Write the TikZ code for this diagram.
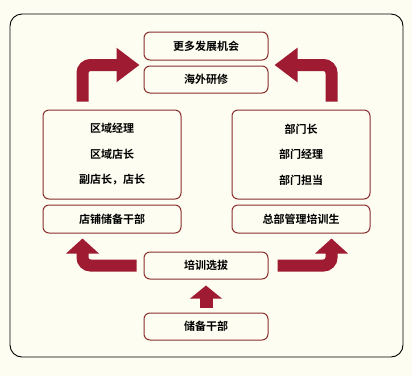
\documentclass[tikz,border=0pt]{standalone}
\usepackage{fontspec}
\setmainfont{Noto Sans CJK SC}[BoldFont={Noto Sans CJK SC Bold}]
\usepackage{tikz}
\usetikzlibrary{arrows.meta,positioning,calc}
\usepackage{xcolor}
\definecolor{cream}{HTML}{FDFDF1}
\definecolor{boxline}{HTML}{8A2E2E}
\definecolor{arrowred}{HTML}{9E1B32}

\begin{document}
\begin{tikzpicture}[x=1pt,y=-1pt,font=\fontsize{11}{13}\selectfont\bfseries,
  box/.style={draw=boxline,line width=1pt,rounded corners=6pt,fill=cream,
    minimum width=124pt,minimum height=27pt,inner sep=0pt},
  widebox/.style={box,minimum width=138pt},
  bigarrow/.style={draw=arrowred,line width=12pt,rounded corners=8pt,
    -{Triangle[width=33pt,length=23pt]}},
  lowarrow/.style={bigarrow,-{Triangle[width=32pt,length=15pt]}}]
  \fill[cream] (0,0) rectangle (412,376);
  \draw[line width=0.9pt,rounded corners=12pt] (10,14) rectangle (403,357);

  % top
  \node[box,minimum height=28pt] (more) at (206,46) {更多发展机会};
  \node[box,below=5pt of more] (overseas) {海外研修};

  % two tracks
  \node[widebox,minimum height=89pt,align=center,
    font=\fontsize{11}{25.5}\selectfont\bfseries] (leftbig) at (112,154.5)
    {区域经理\\区域店长\\副店长，店长};
  \node[widebox,minimum height=89pt,align=center,
    font=\fontsize{11}{25.5}\selectfont\bfseries] (rightbig) at (301,154.5)
    {部门长\\部门经理\\部门担当};
  \node[widebox,minimum height=28pt,below=5pt of leftbig] (storeres) {店铺储备干部};
  \node[widebox,minimum height=28pt,below=5pt of rightbig] (hq) {总部管理培训生};

  % bottom
  \node[box] (train) at (206,265.5) {培训选拔};
  \node[box] (reserve) at (206,326.5) {储备干部};

  \coordinate (tlstart) at ($(leftbig.north west)+(40,-8)$);
  \coordinate (tlend) at ($(more.south west)!0.5!(overseas.north west)+(-4,2)$);
  \coordinate (trstart) at ($(rightbig.north east)+(-39,-8)$);
  \coordinate (trend) at ($(more.south east)!0.5!(overseas.north east)+(6,2)$);
  \coordinate (blstart) at ($(train.west)+(-7,0)$);
  \coordinate (blend) at ($(storeres.south west)+(40,5)$);
  \coordinate (brstart) at ($(train.east)+(9,0)$);
  \coordinate (brend) at ($(hq.south east)+(-39,5)$);

  \draw[bigarrow] (tlstart) |- (tlend);
  \draw[bigarrow] (trstart) |- (trend);
  \draw[lowarrow] (blstart) -| (blend);
  \draw[lowarrow] (brstart) -| (brend);
  \draw[lowarrow,line width=13pt,-{Triangle[width=31pt,length=13pt]}]
    ($(reserve.north)+(0,-5)$) -- ($(train.south)+(0,6)$);
\end{tikzpicture}
\end{document}
